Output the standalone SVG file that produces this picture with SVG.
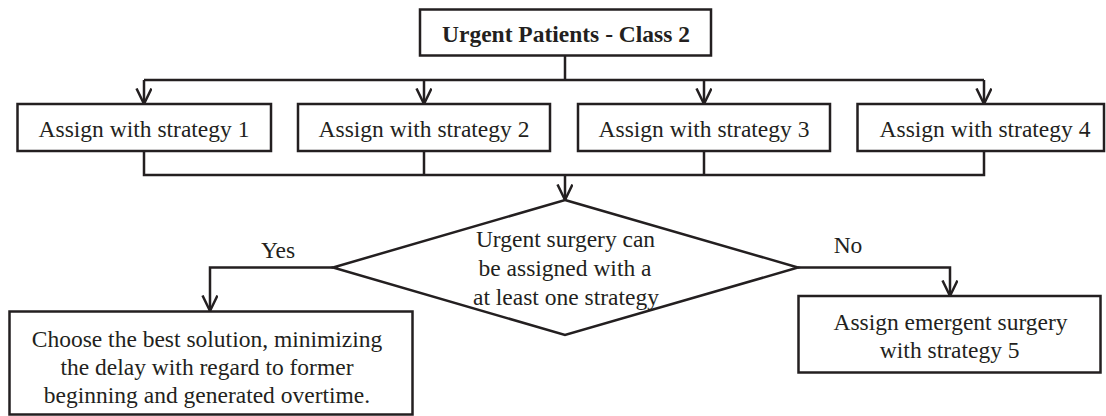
<svg xmlns="http://www.w3.org/2000/svg" width="1106" height="416" viewBox="0 0 1106 416">
  <style>
    .box { fill: #ffffff; stroke: #231f20; stroke-width: 2.5; }
    .line { fill: none; stroke: #231f20; stroke-width: 2.5; }
    .t { font-family: "Liberation Serif", "Times New Roman", serif; font-size: 23.5px; fill: #231f20; text-anchor: middle; }
    .b { font-weight: bold; }
  </style>
  <defs>
    <marker id="arr" markerUnits="userSpaceOnUse" markerWidth="20" markerHeight="20" viewBox="0 0 20 20" refX="16" refY="8" orient="auto">
      <path d="M0.5,0.5 L16,8 L0.5,15.5" fill="none" stroke="#231f20" stroke-width="2.5"/>
    </marker>
  </defs>
  <rect width="1106" height="416" fill="#ffffff"/>

  <g id="connectors">
    <path class="line" d="M565,55 V80"/>
    <path class="line" d="M144,80 H984"/>
    <path class="line" d="M144,80 V104" marker-end="url(#arr)"/>
    <path class="line" d="M424,80 V104" marker-end="url(#arr)"/>
    <path class="line" d="M704,80 V104" marker-end="url(#arr)"/>
    <path class="line" d="M984,80 V104" marker-end="url(#arr)"/>
    <path class="line" d="M144,151 V175 H984 V151"/>
    <path class="line" d="M424,151 V175"/>
    <path class="line" d="M704,151 V175"/>
    <path class="line" d="M565,175 V200" marker-end="url(#arr)"/>
    <path class="line" d="M333,267.5 H210 V311" marker-end="url(#arr)"/>
    <path class="line" d="M798,267.5 H950 V296" marker-end="url(#arr)"/>
    <text class="t" x="278" y="258">Yes</text>
    <text class="t" x="848" y="253">No</text>
  </g>

  <g id="start">
    <rect class="box" x="420" y="9.5" width="291" height="46"/>
    <text class="t b" x="566" y="41.5">Urgent Patients - Class 2</text>
  </g>

  <g id="s1">
    <rect class="box" x="17.5" y="104" width="253.5" height="47"/>
    <text class="t" x="144" y="136.7">Assign with strategy 1</text>
  </g>
  <g id="s2">
    <rect class="box" x="298" y="104" width="252" height="47"/>
    <text class="t" x="424" y="136.7">Assign with strategy 2</text>
  </g>
  <g id="s3">
    <rect class="box" x="578" y="104" width="252" height="47"/>
    <text class="t" x="704" y="136.7">Assign with strategy 3</text>
  </g>
  <g id="s4">
    <rect class="box" x="857.5" y="104" width="246.5" height="47"/>
    <text class="t" x="985" y="136.7">Assign with strategy 4</text>
  </g>

  <g id="decision">
    <polygon class="box" points="565,200 798,267.5 565,335 333,267.5"/>
    <text class="t" x="565.5" y="247.3">Urgent surgery can</text>
    <text class="t" x="565" y="276">be assigned with a</text>
    <text class="t" x="566" y="305">at least one strategy</text>
  </g>

  <g id="best">
    <rect class="box" x="9.5" y="311.5" width="403" height="103"/>
    <text class="t" x="207" y="346.7">Choose the best solution, minimizing</text>
    <text class="t" x="207" y="375">the delay with regard to former</text>
    <text class="t" x="207" y="403.3">beginning and generated overtime.</text>
  </g>

  <g id="emergent">
    <rect class="box" x="798.5" y="296" width="302" height="76.5"/>
    <text class="t" x="950.5" y="330">Assign emergent surgery</text>
    <text class="t" x="949.7" y="358.3">with strategy 5</text>
  </g>
</svg>
